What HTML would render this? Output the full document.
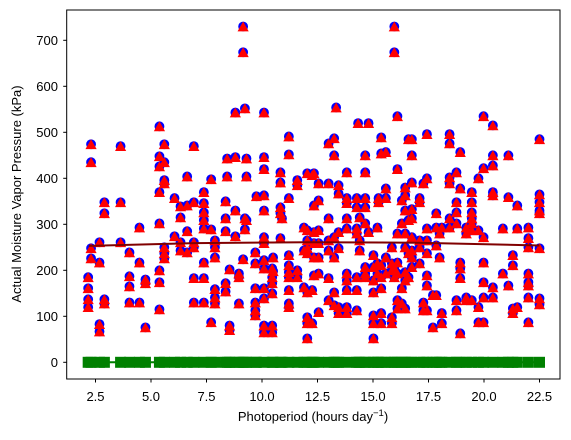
<!DOCTYPE html>
<html><head><meta charset="utf-8"><style>
html,body{margin:0;padding:0;background:#fff;}
svg{display:block;font-family:"Liberation Sans","DejaVu Sans",sans-serif;}
</style></head><body>
<svg id="chart" width="571" height="440" viewBox="0 0 571 440">
<rect x="0" y="0" width="571" height="440" fill="#fff"/>
<g id="plot"></g>
<rect x="66.7" y="10" width="493.3" height="369" fill="none" stroke="#000" stroke-width="1"/>
<g id="xticks"></g>
<g id="yticks"></g>
<text x="313" y="421" font-size="13" text-anchor="middle">Photoperiod (hours day<tspan dy="-5" font-size="9.5">−1</tspan><tspan dy="5">)</tspan></text>
<text transform="translate(21,194) rotate(-90)" font-size="13" text-anchor="middle">Actual Moisture Vapor Pressure (kPa)</text>
</svg>
<script>
const photoperiodColumns = [2.17,2.3,2.68,2.9,3.63,4.03,4.48,4.75,5.38,5.6,6.06,6.33,6.63,6.93,7.38,7.71,7.88,8.36,8.43,8.54,8.8,8.96,9.15,9.23,9.3,9.7,9.75,10.09,10.46,10.5,10.83,10.9,11.21,11.59,11.89,12.04,12.26,12.34,12.55,13.0,13.25,13.34,13.45,13.82,14.27,14.33,14.4,14.65,14.8,15.02,15.2,15.25,15.37,15.58,15.85,15.96,16.1,16.3,16.45,16.6,16.75,17.1,17.27,17.43,17.7,17.85,18.0,18.1,18.45,18.76,18.93,19.2,19.45,19.75,19.98,20.4,20.85,21.1,21.3,21.5,22.0,22.5];
const vaporColumns = [
[185,161,137,120],[474,435,248,226],[261,217,83,67],[348,324,137,128],[470,348,261],[239,187,165,130],[293,217,130],[180,172,76],
[513,448,426,370,302,200,174,115],[474,435,396,389,250,237,226],[357,274],[339,315,261,243],[404,341,285,239],[470,348,261,250,183,130],
[370,346,326,309,291,217,183,130],[398,289,87],[265,250,228,159,141,128],[350,313,285,172,154],[443,404],[202,80,70],[543,446,330,274],
[193,185,128],[730,674,224],[552,313,289],[443,404,309],[239,215,161,130,113,102],[361],[543,446,420,363,330,272,259,222,204,161,139,80,65],
[204,185,172,150,80,65],[228,198],[413,391,337,324,270],[313],[491,452,357,233,211,196,185,157,128,120],[396,385,200,185],[293,243,163],
[411,287,265,248,237,152,98,85,52],[407,157,85],[411,341,283,259,228,189],[389,352,287,259,228,193,109],[476,389,313,265,243,183,135],
[487,450,272,228,152,124],[554],[385,367,283,248,120,107],[413,357,346,313,291,193,178,157,120,107],[357,337,291,280,185,157,113],[520],
[315,265,243],[450,413,357,337,302,207,193,185],[520,283],[233,207,178,152,102,85,52],[293,215,193],[357,348],[489,454,211,185,161,107,85],
[457,378,357,228,193],[250,215,200,98,85],[730,674,204,185],[535,420,280,217,193,135,117],[352,302,161,128],[380,363,330,280,250,196,178,117],
[485,309,237,185],[485,450,391,333,313,272,243,228,207],[357,348,265,250,215],[389,130,113],[496,400,291,265,237,189,167,113],[146,76],
[324,293,254,146],[280,228],[293,107,85],[496,476,402,389,313,293],[413,348,326,302,135,113],[457,378,217,204,183,63],[293,280,141,135],
[370,348,326,313,302,287,135],[400,287,120,87],[535,422,272,217,174,141,87],[515,450,428,370,363,163,141],[291,193],[450,359,167],
[233,211,117,107],[341,291,120],[293,270,250,193,174,167,141,87],[485,365,348,330,324,248,139,126]
];
const trendX = [2.2, 7, 12, 17, 22.5];
const trendY = [253, 259, 261, 260, 254];
const xTicks = [2.5,5.0,7.5,10.0,12.5,15.0,17.5,20.0,22.5];
const yTicks = [0,100,200,300,400,500,600,700];

const NS='http://www.w3.org/2000/svg';
function sx(v){return 95.5+(v-2.5)*22.2;}
function sy(v){return 362.3-v*0.46;}
function mk(tag,attrs,parent){const e=document.createElementNS(NS,tag);for(const k in attrs)e.setAttribute(k,attrs[k]);parent.appendChild(e);return e;}
const plot=document.getElementById('plot');
let gpts=photoperiodColumns.map(x=>sx(x).toFixed(1)+','+sy(0).toFixed(1)).join(' ');
const gl=mk('polyline',{points:gpts,fill:'none',stroke:'green','stroke-width':2},plot);


photoperiodColumns.forEach(x=>{
  const r=mk('rect',{x:sx(x)-5.5,y:sy(0)-5.5,width:11,height:11,fill:'green'},plot);
  
  
});
photoperiodColumns.forEach((x,i)=>{vaporColumns[i].forEach(v=>{
  const c=mk('circle',{cx:sx(x),cy:sy(v),r:4.9,fill:'#0000ff'},plot);
  
  
});});
photoperiodColumns.forEach((x,i)=>{vaporColumns[i].forEach(v=>{
  const X=sx(x),Y=sy(v)+0.8;
  const t=mk('polygon',{points:`${X},${Y-5.8} ${X-5.6},${Y+4.1} ${X+5.6},${Y+4.1}`,fill:'#ff0000'},plot);
  
  
});});
const tl=mk('polyline',{points:trendX.map((x,i)=>sx(x)+','+sy(trendY[i])).join(' '),fill:'none',stroke:'#800000','stroke-width':2},plot);


const xg=document.getElementById('xticks');
xTicks.forEach(t=>{
  const l=mk('line',{x1:sx(t),x2:sx(t),y1:379,y2:382.5,stroke:'#000'},xg);
  
  
  const tx=mk('text',{x:sx(t),y:401,'font-size':13,'text-anchor':'middle'},xg);
  tx.textContent=t.toFixed(1);
  
  
});
const yg=document.getElementById('yticks');
yTicks.forEach(t=>{
  const l=mk('line',{x1:63.2,x2:66.7,y1:sy(t),y2:sy(t),stroke:'#000'},yg);
  
  
  const tx=mk('text',{x:58,y:sy(t)+4.6,'font-size':13,'text-anchor':'end'},yg);
  tx.textContent=t;
  
  
});
</script>
</body></html>
